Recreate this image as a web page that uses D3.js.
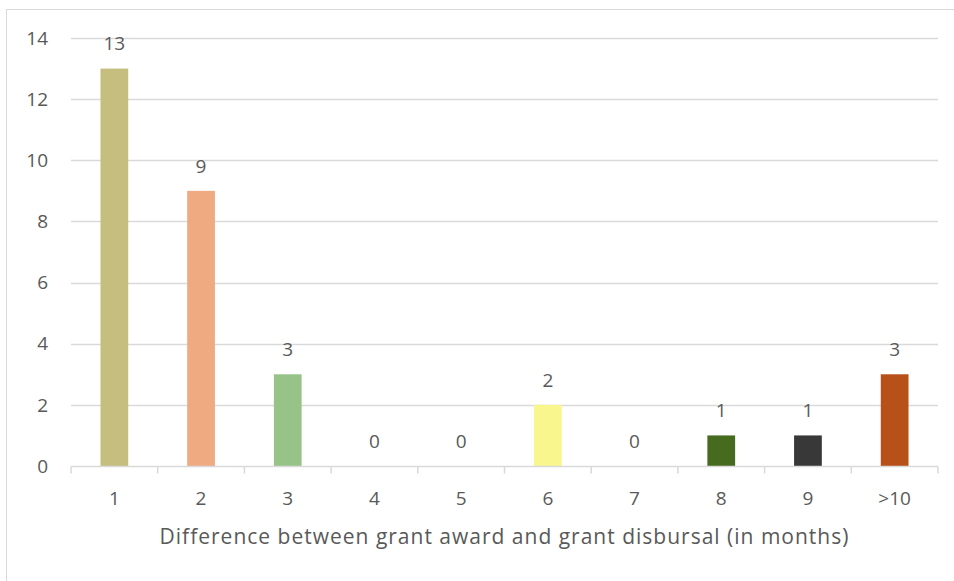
<!DOCTYPE html>
<html>
<head>
<meta charset="utf-8">
<script src="https://cdn.jsdelivr.net/npm/d3@7"></script>
<style>
  body { margin: 0; background: #fff; }
  text { font-family: "Open Sans", "Noto Sans", sans-serif; }
</style>
</head>
<body>
<div id="chart"></div>
<script>
var width = 954;
var height = 581;
var margin = {top: 38, right: 16, bottom: 115, left: 71};

// data
var categories = ['1', '2', '3', '4', '5', '6', '7', '8', '9', '>10'];
var counts = [13, 9, 3, 0, 0, 2, 0, 1, 1, 3];
var barColors = ['#C5BE7E', '#F0AA82', '#97C389', '#BFBFBF', '#BFBFBF', '#F8F68C', '#BFBFBF', '#466A1E', '#383838', '#B75119'];
var yTicks = [0, 2, 4, 6, 8, 10, 12, 14];
var xTitle = 'Difference between grant award and grant disbursal (in months)';

var data = categories.map(function(c, i) {
  return {cat: c, value: counts[i], color: barColors[i]};
});

var svg = d3.select('#chart').append('svg')
  .attr('width', width)
  .attr('height', height);

// chart area border
svg.append('rect')
  .attr('x', 6.5).attr('y', 9.5)
  .attr('width', width).attr('height', height)
  .attr('fill', 'none')
  .attr('stroke', '#D9D9D9')
  .attr('stroke-width', 1);

var x = d3.scaleBand()
  .domain(categories)
  .range([margin.left, width - margin.right])
  .paddingInner(0.68)
  .paddingOuter(0.34);

var y = d3.scaleLinear()
  .domain([0, 14])
  .range([height - margin.bottom, margin.top]);

// gridlines
svg.append('g')
  .selectAll('line')
  .data(yTicks.filter(function(t) { return t > 0; }))
  .enter()
  .append('line')
  .attr('x1', margin.left)
  .attr('x2', width - margin.right)
  .attr('y1', function(d) { return Math.round(y(d)) + 0.5; })
  .attr('y2', function(d) { return Math.round(y(d)) + 0.5; })
  .attr('stroke', '#D9D9D9')
  .attr('stroke-width', 1.5);

// y labels
svg.append('g')
  .selectAll('text')
  .data(yTicks)
  .enter()
  .append('text')
  .attr('x', 48)
  .attr('y', function(d) { return y(d); })
  .attr('dy', '0.35em')
  .attr('text-anchor', 'end')
  .attr('fill', '#595959')
  .attr('font-size', '19px')
  .text(function(d) { return d; });

// bars
svg.append('g')
  .selectAll('rect')
  .data(data)
  .enter()
  .append('rect')
  .attr('x', function(d) { return x(d.cat); })
  .attr('y', function(d) { return y(d.value); })
  .attr('width', x.bandwidth())
  .attr('height', function(d) { return y(0) - y(d.value); })
  .attr('fill', function(d) { return d.color; });

// value labels
svg.append('g')
  .selectAll('text')
  .data(data)
  .enter()
  .append('text')
  .attr('x', function(d) { return x(d.cat) + x.bandwidth() / 2; })
  .attr('y', function(d) { return y(d.value) - 25; })
  .attr('dy', '0.35em')
  .attr('text-anchor', 'middle')
  .attr('fill', '#595959')
  .attr('font-size', '19px')
  .text(function(d) { return d.value; });

// x axis line and ticks
var step = x.step();
var x0 = margin.left;
var axisY = Math.round(y(0)) + 0.5;
var ax = svg.append('g');
ax.append('line')
  .attr('x1', margin.left).attr('x2', width - margin.right)
  .attr('y1', axisY).attr('y2', axisY)
  .attr('stroke', '#D9D9D9').attr('stroke-width', 1.5);
ax.selectAll('line.tick')
  .data(d3.range(categories.length + 1))
  .enter()
  .append('line')
  .attr('class', 'tick')
  .attr('x1', function(i) { return x0 + i * step; })
  .attr('x2', function(i) { return x0 + i * step; })
  .attr('y1', axisY).attr('y2', axisY + 7)
  .attr('stroke', '#D9D9D9').attr('stroke-width', 1.5);

// category labels
svg.append('g')
  .selectAll('text')
  .data(categories)
  .enter()
  .append('text')
  .attr('x', function(d) { return x(d) + x.bandwidth() / 2; })
  .attr('y', 498)
  .attr('dy', '0.35em')
  .attr('text-anchor', 'middle')
  .attr('fill', '#595959')
  .attr('font-size', '19px')
  .text(function(d) { return d; });

// axis title
svg.append('text')
  .attr('x', (margin.left + width - margin.right) / 2)
  .attr('y', 537)
  .attr('dy', '0.35em')
  .attr('text-anchor', 'middle')
  .attr('fill', '#595959')
  .attr('font-size', '21px')
  .attr('letter-spacing', '1px')
  .text(xTitle);
</script>
</body>
</html>
